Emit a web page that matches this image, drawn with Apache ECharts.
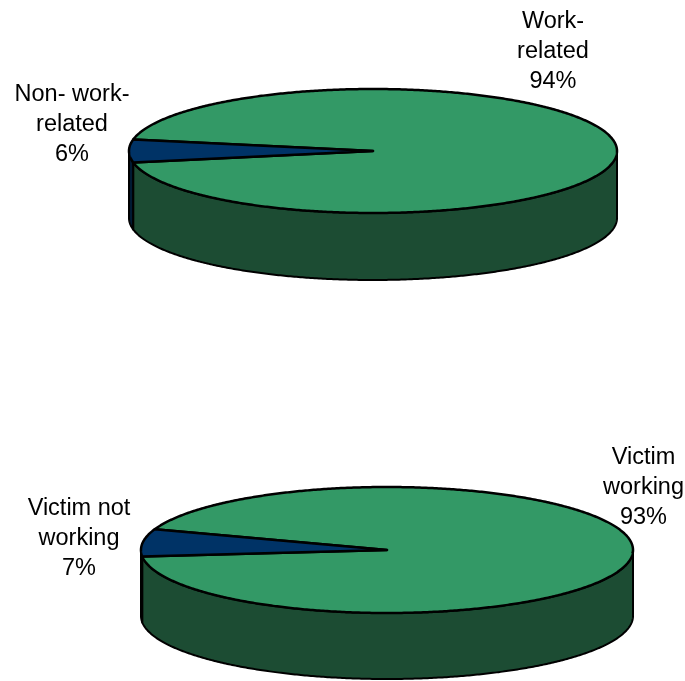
<!DOCTYPE html>
<html>
<head>
<meta charset="utf-8">
<style>html,body{margin:0;padding:0;background:#fff}#c{width:685px;height:681px}</style>
<script src="https://cdn.jsdelivr.net/npm/echarts@6/dist/echarts.min.js"></script>
</head>
<body>
<div id="c"></div>
<script>
// Data
var topCategories = ['Non- work-related', 'Work-related'];
var topValues = [6, 94];
var topLabelLines = [['Non- work-', 'related', '6%'], ['Work-', 'related', '94%']];
var bottomCategories = ['Victim not working', 'Victim working'];
var bottomValues = [7, 93];
var bottomLabelLines = [['Victim not', 'working', '7%'], ['Victim', 'working', '93%']];

// Styles and layout
var faceColors = ['#003366', '#339966'];
var sideColors = ['#001a33', '#1c4c33'];
var topLayout = { cx: 373, cy: 151, rx: 244, ry: 62, depth: 67, startAngle: 169.2,
  labels: [{ x: 72, y: 95 }, { x: 553, y: 22 }] };
var bottomLayout = { cx: 387, cy: 550, rx: 246, ry: 63, depth: 66, startAngle: 174,
  labels: [{ x: 79, y: 509 }, { x: 643.5, y: 458 }] };
var LINE_HEIGHT = 30;
var FONT = '23.5px "Liberation Sans", Arial, sans-serif';

function arc(l, from, to, dy) {
  var pts = [], n = Math.max(1, Math.ceil(Math.abs(to - from) * 2));
  for (var i = 0; i <= n; i++) {
    var t = (from + (to - from) * i / n) * Math.PI / 180;
    pts.push([l.cx + l.rx * Math.cos(t), l.cy + (dy || 0) + l.ry * Math.sin(t)]);
  }
  return pts;
}

function sideBand(l, from, to, color) {
  var a = Math.max(from, 0), b = Math.min(to, 180), out = [];
  function add(p, q) {
    if (q <= p) return;
    out.push({
      type: 'polygon', z2: 1,
      shape: { points: arc(l, p, q, 0).concat(arc(l, q, p, l.depth)) },
      style: { fill: color, stroke: '#000', lineWidth: 2, lineJoin: 'round' }
    });
  }
  add(a, b);
  add(Math.max(from, 360) - 360, Math.min(to, 540) - 360);
  return out;
}

function pieSeries(name, cats, values, labelLines, l) {
  var total = values.reduce(function (s, v) { return s + v; }, 0);
  return {
    type: 'custom', name: name, coordinateSystem: 'none', silent: true,
    data: values.map(function (v, i) { return { name: cats[i], value: [v] }; }),
    renderItem: function (params, api) {
      var i = params.dataIndex, from = l.startAngle;
      for (var k = 0; k < i; k++) from += values[k] / total * 360;
      var to = from + api.value(0) / total * 360;
      var children = sideBand(l, from, to, sideColors[i]);
      children.push({
        type: 'polygon', z2: i === 0 ? 3 : 2,
        shape: { points: [[l.cx, l.cy]].concat(arc(l, from, to, 0)) },
        style: { fill: faceColors[i], stroke: '#000', lineWidth: 2.5, lineJoin: 'round' }
      });
      labelLines[i].forEach(function (line, j) {
        children.push({
          type: 'text', z2: 5,
          style: {
            text: line, x: l.labels[i].x, y: l.labels[i].y + j * LINE_HEIGHT,
            align: 'center', verticalAlign: 'middle', font: FONT, fill: '#000'
          }
        });
      });
      return { type: 'group', children: children };
    }
  };
}

var chart = echarts.init(document.getElementById('c'), null, { renderer: 'canvas' });
chart.setOption({
  animation: false,
  backgroundColor: '#ffffff',
  series: [
    pieSeries('Top pie', topCategories, topValues, topLabelLines, topLayout),
    pieSeries('Bottom pie', bottomCategories, bottomValues, bottomLabelLines, bottomLayout)
  ]
});
</script>
</body>
</html>
